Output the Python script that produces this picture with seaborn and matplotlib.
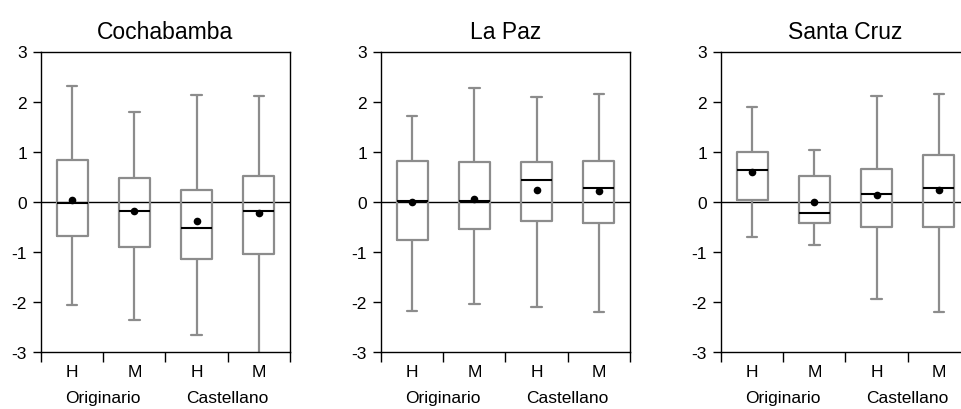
import numpy as np
import pandas as pd
import matplotlib
matplotlib.use("Agg")
import matplotlib.pyplot as plt
import seaborn as sns

# Five-number summaries (lower whisker, Q1, median, Q3, upper whisker) and means
regions = ["Cochabamba", "La Paz", "Santa Cruz"]
groups = ["Originario H", "Originario M", "Castellano H", "Castellano M"]
tick_labels = ["H", "M", "H", "M"]
group_labels = ["Originario", "Castellano"]

cbba_low = [-2.06, -2.37, -2.67, -3.05]
cbba_q1 = [-0.69, -0.91, -1.14, -1.04]
cbba_med = [-0.03, -0.19, -0.53, -0.19]
cbba_q3 = [0.83, 0.47, 0.24, 0.51]
cbba_high = [2.31, 1.79, 2.14, 2.11]
cbba_mean = [0.03, -0.19, -0.38, -0.22]

lpz_low = [-2.18, -2.05, -2.10, -2.21]
lpz_q1 = [-0.77, -0.55, -0.38, -0.42]
lpz_med = [0.02, 0.01, 0.43, 0.27]
lpz_q3 = [0.81, 0.79, 0.79, 0.81]
lpz_high = [1.72, 2.27, 2.09, 2.16]
lpz_mean = [-0.01, 0.06, 0.23, 0.22]

scz_low = [-0.70, -0.87, -1.94, -2.20]
scz_q1 = [0.03, -0.43, -0.50, -0.50]
scz_med = [0.63, -0.23, 0.15, 0.27]
scz_q3 = [0.99, 0.51, 0.65, 0.93]
scz_high = [1.89, 1.03, 2.11, 2.16]
scz_mean = [0.59, -0.01, 0.13, 0.23]

summaries = {
    "Cochabamba": (cbba_low, cbba_q1, cbba_med, cbba_q3, cbba_high, cbba_mean),
    "La Paz": (lpz_low, lpz_q1, lpz_med, lpz_q3, lpz_high, lpz_mean),
    "Santa Cruz": (scz_low, scz_q1, scz_med, scz_q3, scz_high, scz_mean),
}

sns.set_theme(style="ticks")
plt.rcParams["font.family"] = ["Liberation Sans", "DejaVu Sans"]

W, H = 962, 410
fig = plt.figure(figsize=(W / 100, H / 100), dpi=100)

ax_lefts = [41, 381, 721]
ax_w, ax_top, ax_bot = 249, 52.5, 352.7
box_grey = "#8c8c8c"

for left, region in zip(ax_lefts, regions):
    ax = fig.add_axes([left / W, 1 - ax_bot / H, ax_w / W, (ax_bot - ax_top) / H])
    low, q1, med, q3, high, mean = summaries[region]

    # Long table: the five summary points per group reproduce the box exactly
    rows = []
    for g, vals in zip(groups, zip(low, q1, med, q3, high)):
        for v in vals:
            rows.append({"grupo": g, "valor": v})
    df = pd.DataFrame(rows)

    ax.axhline(0, color="black", lw=1.0, zorder=1)
    sns.boxplot(
        data=df, x="grupo", y="valor", order=groups, ax=ax,
        whis=(0, 100), width=0.5, fill=False, color=box_grey,
        linewidth=1.6, showfliers=False, capwidths=0.17,
        medianprops={"color": "black", "linewidth": 1.5},
    )
    sns.stripplot(
        x=groups, y=mean, order=groups, jitter=False, color="black",
        size=5.5, ax=ax, zorder=5,
    )

    ax.set_xlim(-0.5, 3.5)
    ax.set_ylim(-3, 3)
    ax.set_yticks([-3, -2, -1, 0, 1, 2, 3])
    ax.set_yticklabels(["-3", "-2", "-1", "0", "1", "2", "3"])
    ax.set_xticks([-0.5, 0.5, 1.5, 2.5, 3.5])
    ax.set_xticklabels([])
    ax.set_xticks(range(4), minor=True)
    ax.set_xticklabels(tick_labels, minor=True)
    ax.tick_params(axis="x", which="major", direction="out", length=7.5,
                   width=1, color="black")
    ax.tick_params(axis="x", which="minor", length=0, pad=9, labelsize=12.5,
                   labelcolor="black")
    ax.tick_params(axis="y", direction="out", length=6, width=1,
                   color="black", pad=4, labelsize=12.5, labelcolor="black")
    ax.set_xlabel("")
    ax.set_ylabel("")
    for sp in ax.spines.values():
        sp.set_visible(True)
        sp.set_color("black")
        sp.set_linewidth(1.0)

    ax.text(0.5, -0.152, group_labels[0], transform=ax.get_xaxis_transform(),
            ha="center", va="center", fontsize=12.5, color="black")
    ax.text(2.5, -0.152, group_labels[1], transform=ax.get_xaxis_transform(),
            ha="center", va="center", fontsize=12.5, color="black")
    ax.set_title(region, fontsize=16.5, color="black", pad=10)

fig.savefig("out.png", dpi=100, facecolor="white")
